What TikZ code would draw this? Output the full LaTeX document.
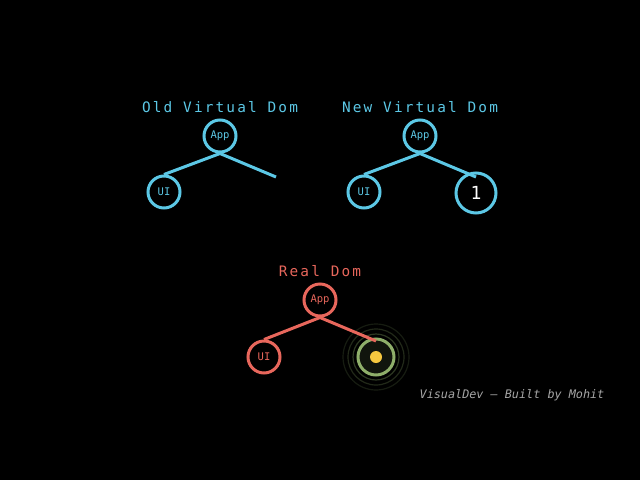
\documentclass[tikz,border=0pt]{standalone}
\usepackage{fontspec}
\setmonofont{DejaVu Sans Mono}
\newfontfamily\titlefont[LetterSpace=15]{DejaVu Sans Mono}
\definecolor{vdom}{HTML}{5CC8E6}
\definecolor{rdom}{HTML}{E8675C}
\definecolor{ring}{HTML}{8FAF6A}
\definecolor{dot}{HTML}{F5C73F}
\begin{document}
\begin{tikzpicture}[x=1pt, y=-1pt,
    vnode/.style={circle, draw=vdom, line width=3pt, minimum size=32pt, inner sep=0pt, text=vdom, font=\ttfamily\fontsize{10.5}{10.5}\selectfont},
    rnode/.style={vnode, draw=rdom, text=rdom},
    vedge/.style={draw=vdom, line width=3pt},
    redge/.style={draw=rdom, line width=3pt},
    title/.style={font=\titlefont\fontsize{14.4}{14.4}\selectfont}]
  \fill[black] (0,0) rectangle (640,480);
  % old virtual dom
  \node (ot) at (220,107) [title, text=vdom] {Old Virtual Dom};
  \node (oapp) at (220,136) [vnode] {App};
  \node (oui) at (164,192) [vnode] {UI};
  \coordinate (oend) at (276,177);
  \path[vedge] (oapp.south) -- (oui.north);
  \path[vedge] (oapp.south) -- (oend);
  % new virtual dom
  \node (nt) at (420,107) [title, text=vdom] {New Virtual Dom};
  \node (napp) at (420,136) [vnode] {App};
  \node (nui) at (364,192) [vnode] {UI};
  \node (none) at (476,193) [vnode, minimum size=40pt, text=white, font=\ttfamily\fontsize{18}{18}\selectfont] {1};
  \coordinate (nend) at (476,177);
  \path[vedge] (napp.south) -- (nui.north);
  \path[vedge] (napp.south) -- (nend);
  % real dom
  \node (rt) at (320,271) [title, text=rdom] {Real Dom};
  \node (rapp) at (320,300) [rnode] {App};
  \node (rui) at (264,357) [rnode] {UI};
  \foreach \r/\o in {33/0.16, 28/0.24, 23/0.32}
    \draw[ring, opacity=\o, line width=1.2pt] (376,357) circle (\r);
  \node (rnew) at (376,357) [circle, draw=ring, fill=black!88!ring, line width=3pt, minimum size=36pt, inner sep=0pt] {};
  \fill[dot] (rnew.center) circle (6);
  \coordinate (rend) at (376,341);
  \path[redge] (rapp.south) -- (rui.north);
  \path[redge] (rapp.south) -- (rend);
  % footer
  \node (mark) at (512,395) [text=black!35!white, font=\ttfamily\itshape\fontsize{11.8}{12}\selectfont] {VisualDev — Built by Mohit};
\end{tikzpicture}
\end{document}
